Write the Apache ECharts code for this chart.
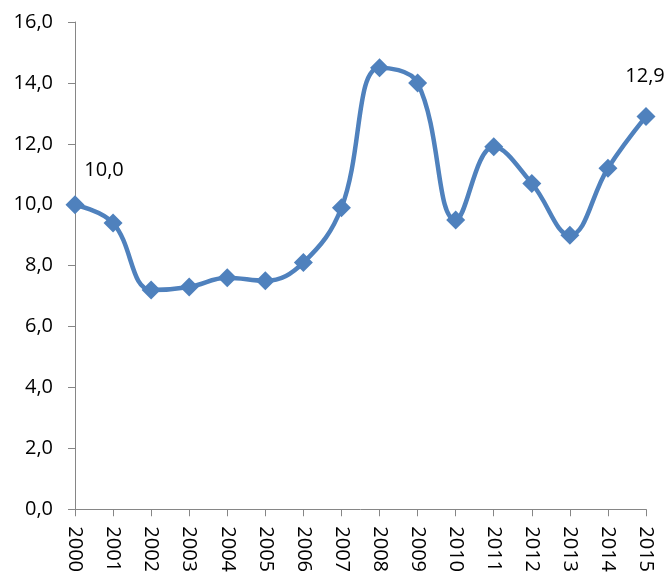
<!DOCTYPE html>
<html>
<head>
<meta charset="utf-8">
<script src="https://cdn.jsdelivr.net/npm/echarts@6/dist/echarts.min.js"></script>
<style>
html,body{margin:0;padding:0;background:#fff;}
#chart{width:667px;height:575px;}
</style>
</head>
<body>
<div id="chart"></div>
<script>
var years = ['2000','2001','2002','2003','2004','2005','2006','2007','2008','2009','2010','2011','2012','2013','2014','2015'];
var values = [10.0, 9.4, 7.2, 7.3, 7.6, 7.5, 8.1, 9.9, 14.5, 14.0, 9.5, 11.9, 10.7, 9.0, 11.2, 12.9];

var myChart = echarts.init(document.getElementById('chart'));

// only the first and last points carry a value label
var seriesData = values.map(function (v, i) {
    var item = {value: v};
    if (i === 0) {
        item.label = {show: true, offset: [29, -10]};
    } else if (i === values.length - 1) {
        item.label = {show: true, offset: [-1, -16]};
    }
    return item;
});

var option = {
    animation: false,
    grid: {
        left: 75,
        right: 21,
        top: 22,
        bottom: 64
    },
    xAxis: {
        type: 'category',
        boundaryGap: false,
        data: years,
        axisLine: {
            lineStyle: {color: '#868686', width: 1}
        },
        axisTick: {
            show: true,
            length: 7,
            lineStyle: {color: '#868686'}
        },
        axisLabel: {
            rotate: -90,
            interval: 0,
            margin: 17,
            color: '#000',
            fontSize: 20,
            fontFamily: 'Open Sans'
        }
    },
    yAxis: {
        type: 'value',
        min: 0,
        max: 16,
        interval: 2,
        axisLine: {
            show: true,
            lineStyle: {color: '#868686', width: 1}
        },
        axisTick: {
            show: true,
            length: 7,
            lineStyle: {color: '#868686'}
        },
        splitLine: {show: false},
        axisLabel: {
            margin: 22,
            color: '#000',
            fontSize: 20,
            fontFamily: 'Open Sans',
            formatter: function (v) {
                return v.toFixed(1).replace('.', ',');
            }
        }
    },
    series: [{
        type: 'line',
        smooth: 0.4,
        symbol: 'diamond',
        symbolSize: 19,
        lineStyle: {color: '#4F81BD', width: 4.5},
        itemStyle: {color: '#4F81BD'},
        label: {
            show: false,
            position: 'top',
            color: '#000',
            fontSize: 20,
            fontFamily: 'Open Sans',
            formatter: function (p) {
                return p.value.toFixed(1).replace('.', ',');
            }
        },
        data: seriesData
    }]
};
myChart.setOption(option);
</script>
</body>
</html>
